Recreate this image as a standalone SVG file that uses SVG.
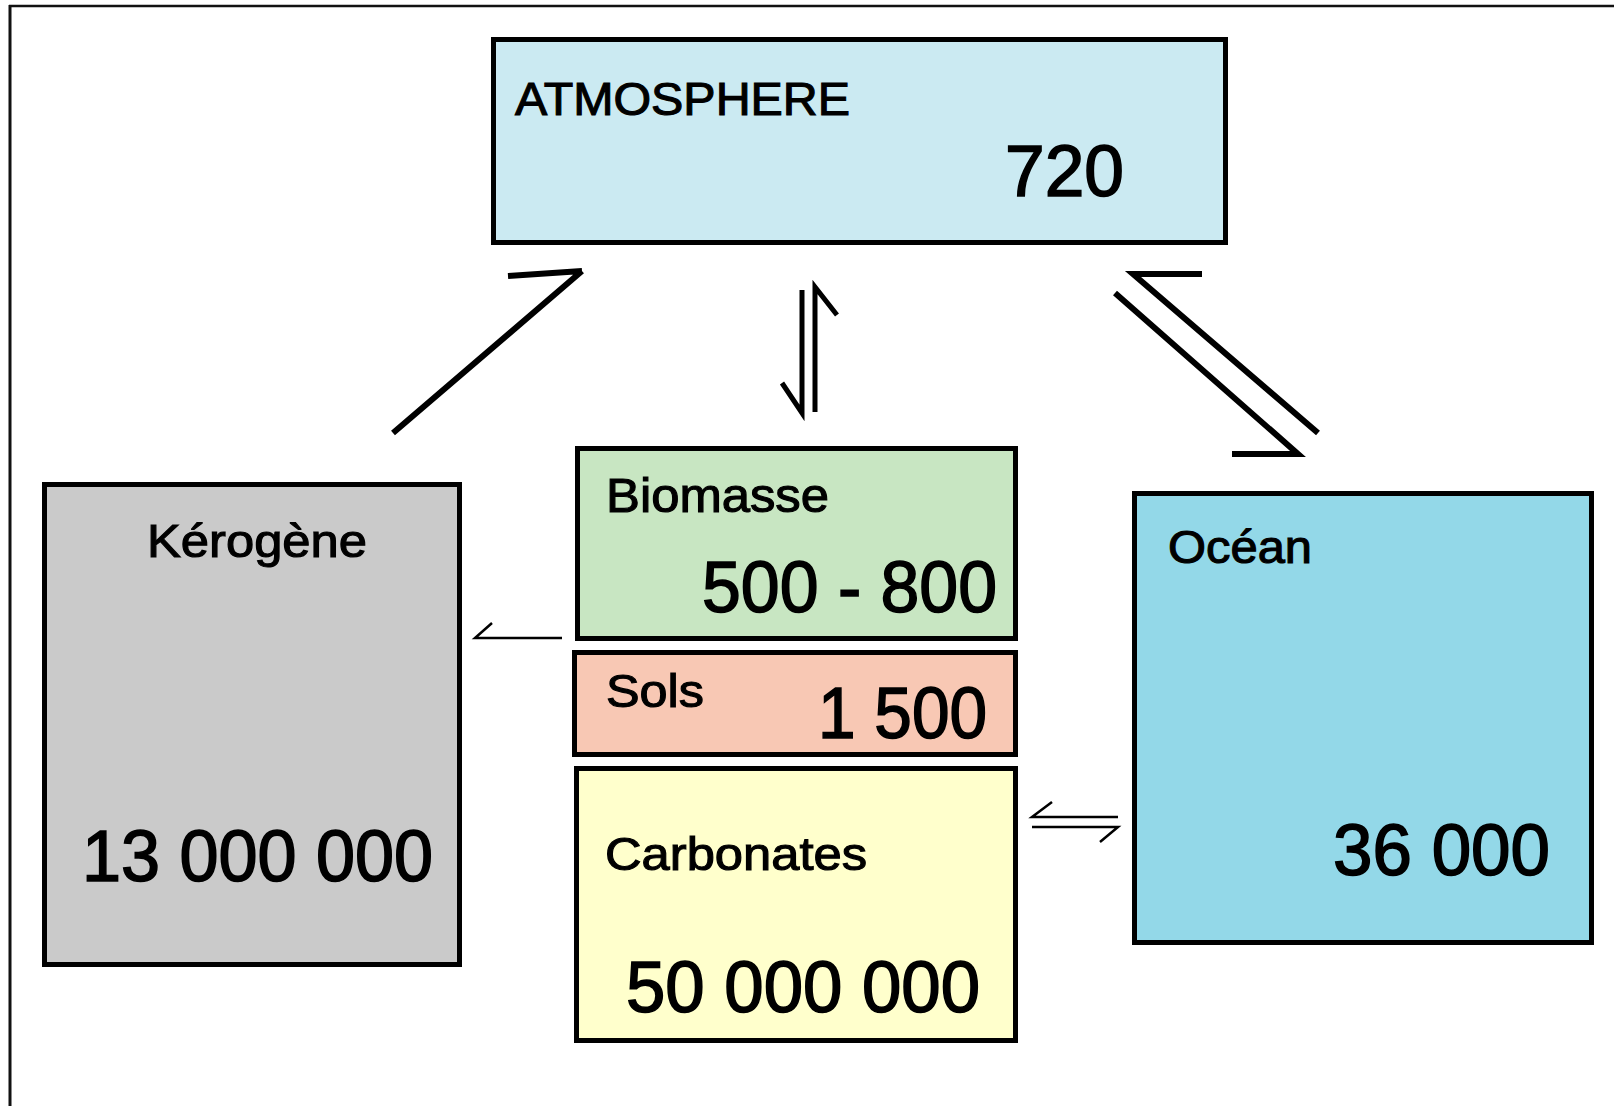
<svg xmlns="http://www.w3.org/2000/svg" width="1614" height="1106" viewBox="0 0 1614 1106">
<style>
.box{stroke:#000;stroke-width:5}
.lbl{font-family:"Liberation Sans",Arial,sans-serif;font-size:46px;fill:#000;stroke:#000;stroke-width:1.1}
.num{font-family:"Liberation Sans",Arial,sans-serif;font-size:73px;fill:#000;stroke:#000;stroke-width:1.6}
.thick{stroke:#000;stroke-width:6;fill:none;stroke-linecap:butt}
.mid{stroke:#000;stroke-width:5;fill:none}
.thin{stroke:#000;stroke-width:2.5;fill:none}
</style>
<rect x="0" y="0" width="1614" height="1106" fill="#fff"/>
<g id="frame">
<line x1="9" y1="6" x2="1614" y2="6" stroke="#111" stroke-width="2.5"/>
<line x1="10" y1="5" x2="10" y2="1106" stroke="#111" stroke-width="3"/>
</g>
<g id="atmosphere">
<rect class="box" x="493.5" y="39.5" width="732" height="203" fill="#CBEAF2"/>
<text class="lbl" x="515" y="115" textLength="335" lengthAdjust="spacingAndGlyphs">ATMOSPHERE</text>
<text class="num" x="1005" y="196" textLength="119" lengthAdjust="spacingAndGlyphs">720</text>
</g>
<g id="kerogene">
<rect class="box" x="44.5" y="484.5" width="415" height="480" fill="#CACACA"/>
<text class="lbl" x="147" y="557" textLength="220" lengthAdjust="spacingAndGlyphs">Kérogène</text>
<text class="num" x="82" y="881" textLength="351" lengthAdjust="spacingAndGlyphs">13 000 000</text>
</g>
<g id="biomasse">
<rect class="box" x="577.5" y="448.5" width="438" height="190" fill="#C8E6C2"/>
<text class="lbl" x="606" y="512" style="font-size:48px" textLength="223" lengthAdjust="spacingAndGlyphs">Biomasse</text>
<text class="num" x="702" y="612" textLength="295" lengthAdjust="spacingAndGlyphs">500 - 800</text>
</g>
<g id="sols">
<rect class="box" x="574.5" y="652.5" width="441" height="102" fill="#F8C8B4"/>
<text class="lbl" x="606" y="707" textLength="98" lengthAdjust="spacingAndGlyphs">Sols</text>
<text class="num" x="818" y="738" textLength="169" lengthAdjust="spacingAndGlyphs">1 500</text>
</g>
<g id="carbonates">
<rect class="box" x="576.5" y="768.5" width="439" height="272" fill="#FFFFCC"/>
<text class="lbl" x="605" y="870" textLength="262" lengthAdjust="spacingAndGlyphs">Carbonates</text>
<text class="num" x="626" y="1012" textLength="354" lengthAdjust="spacingAndGlyphs">50 000 000</text>
</g>
<g id="ocean">
<rect class="box" x="1134.5" y="493.5" width="457" height="449" fill="#93D8E8"/>
<text class="lbl" x="1168" y="563" textLength="144" lengthAdjust="spacingAndGlyphs">Océan</text>
<text class="num" x="1333" y="875" textLength="217" lengthAdjust="spacingAndGlyphs">36 000</text>
</g>
<g id="connectors">
<path class="thick" d="M393 433 L582 271 M508 276 L582 271"/>
<path class="mid" d="M802 290 L802 413 L782 383"/>
<path class="mid" d="M815 412 L815 287 L837 315"/>
<path class="thick" d="M1318 433 L1133 274 L1202 274"/>
<path class="thick" d="M1115 293 L1298 454 L1232 454"/>
<path class="thin" d="M562 638 L475 638 L492 623"/>
<path class="thin" d="M1118 817 L1032 817 L1052 802"/>
<path class="thin" d="M1032 827 L1118 827 L1100 842"/>
</g>
</svg>
